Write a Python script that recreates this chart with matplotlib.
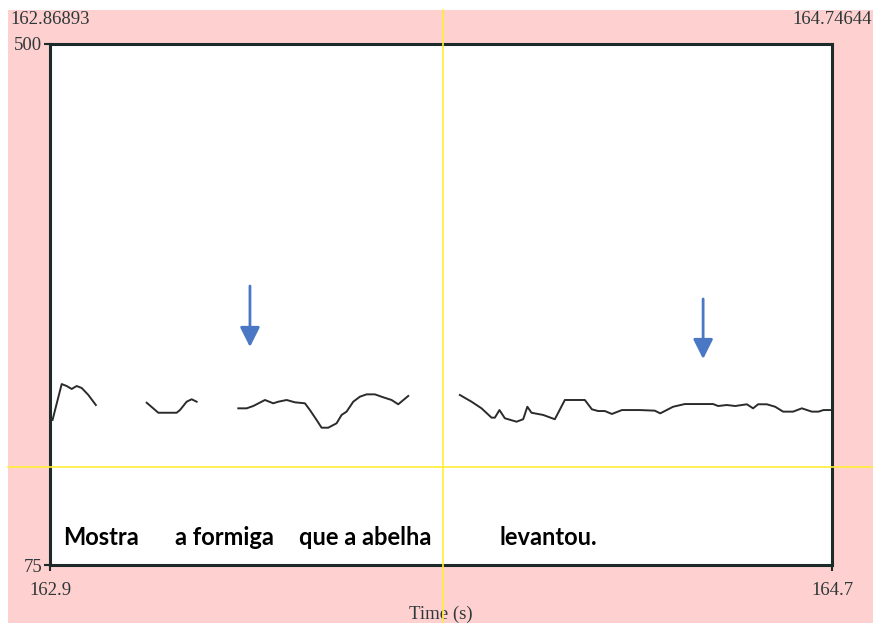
import matplotlib.pyplot as plt
from matplotlib.patches import Rectangle
from matplotlib.transforms import blended_transform_factory

# visible window (s) and pitch range (Hz)
t_start, t_end = 162.86893, 164.74644
f_min, f_max = 75, 500

# pitch contour, one list pair per voiced stretch
seg1_t = [162.875, 162.897, 162.909, 162.921, 162.933, 162.945, 162.961, 162.979]
seg1_f = [193.3, 222.6, 221.0, 218.6, 221.0, 219.4, 213.7, 205.5]

seg2_t = [163.101, 163.129, 163.173, 163.181, 163.197, 163.209, 163.221]
seg2_f = [207.4, 199.2, 199.2, 201.4, 208.2, 210.2, 208.2]

seg3_t = [163.321, 163.341, 163.357, 163.385, 163.405, 163.417, 163.437, 163.457,
          163.481, 163.493, 163.509, 163.521, 163.537, 163.557, 163.569, 163.581,
          163.597, 163.613, 163.629, 163.649, 163.669, 163.689, 163.705, 163.729]
seg3_f = [202.8, 202.8, 204.7, 209.6, 206.9, 208.2, 209.6, 207.7,
          206.9, 201.4, 193.3, 187.0, 187.0, 190.6, 197.4, 200.1,
          208.2, 212.3, 214.2, 214.2, 211.8, 209.6, 206.1, 212.9]

seg4_t = [163.853, 163.881, 163.905, 163.929, 163.937, 163.948, 163.961, 163.989,
          164.005, 164.015, 164.025, 164.053, 164.081, 164.105, 164.153, 164.170,
          164.185, 164.201, 164.218, 164.242, 164.285, 164.321, 164.334, 164.365,
          164.393, 164.461, 164.473, 164.494, 164.514, 164.542, 164.557, 164.569,
          164.590, 164.610, 164.629, 164.653, 164.674, 164.698, 164.714, 164.726,
          164.746]
seg4_f = [213.7, 208.2, 202.8, 195.2, 195.2, 201.4, 194.7, 191.9,
          193.9, 204.1, 199.2, 197.4, 193.9, 209.6, 209.6, 202.0,
          200.6, 200.6, 198.2, 201.4, 201.4, 200.9, 198.7, 204.1,
          206.3, 206.3, 204.7, 205.5, 204.7, 206.1, 202.8, 206.1,
          206.1, 204.1, 200.1, 200.1, 202.8, 200.1, 200.1, 201.4,
          201.4]

segments = [(seg1_t, seg1_f), (seg2_t, seg2_f), (seg3_t, seg3_f), (seg4_t, seg4_f)]

# cursor crosshair
cursor_t = 163.8125
cursor_f = 155.0

# words of the sentence and where they start
words = ["Mostra", "a formiga", "que a abelha", "levantou."]
word_t = [162.900, 163.169, 163.467, 163.949]
word_f = 97.5

# arrows marking the accented syllables: (time, tail Hz, tip Hz)
arrows = [(163.349, 302.6, 252.8), (164.437, 292.0, 243.0)]

W, H = 873, 623
fig = plt.figure(figsize=(W / 100, H / 100), dpi=100, facecolor="white")
fig.add_artist(Rectangle((8 / W, 0), (W - 8) / W, (H - 10) / H,
                         transform=fig.transFigure, facecolor="#ffd0d0",
                         edgecolor="none", zorder=0))

ax = fig.add_axes([50 / W, (H - 565) / H, 782 / W, 521 / H])
ax.set_facecolor("white")
ax.set_xlim(t_start, t_end)
ax.set_ylim(f_min, f_max)

for t, f in segments:
    ax.plot(t, f, color="#2b2b2b", lw=1.4, zorder=3)

# crosshair runs across the whole pink panel
vtrans = blended_transform_factory(ax.transData, fig.transFigure)
htrans = blended_transform_factory(fig.transFigure, ax.transData)
fig.add_artist(plt.Line2D([cursor_t, cursor_t], [0, (H - 10) / H], transform=vtrans,
                          color="#ffee33", lw=1.2, zorder=1))
fig.add_artist(plt.Line2D([8 / W, 1], [cursor_f, cursor_f], transform=htrans,
                          color="#ffee33", lw=1.2, zorder=1))

for t, f0, f1 in arrows:
    ax.annotate("", xy=(t, f1), xytext=(t, f0),
                arrowprops=dict(arrowstyle="-|>,head_length=0.8,head_width=0.4",
                                color="#4a78c4", lw=2, mutation_scale=15,
                                shrinkA=0, shrinkB=0), zorder=4)

for w, t in zip(words, word_t):
    ax.text(t, word_f, w, ha="left", va="center", fontsize=17,
            fontweight="bold", family="Lato", color="black", zorder=4)

for side in ax.spines.values():
    side.set_linewidth(2.2)
    side.set_color("#1c2a2a")

serif = "Liberation Serif"
txt = "#2d3838"
ax.set_yticks([f_min, f_max])
ax.set_yticklabels([str(f_min), str(f_max)], family=serif, fontsize=13.5, color=txt)
ax.set_xticks([t_start, t_end])
ax.set_xticklabels([f"{t_start:.1f}", f"{t_end:.1f}"], family=serif, fontsize=13.5, color=txt)
ax.tick_params(axis="y", length=4, width=1.5, pad=1.5, color="#1c2a2a")
ax.tick_params(axis="x", length=4, width=1.5, pad=8, color="#1c2a2a")
ax.set_xlabel("Time (s)", family=serif, fontsize=13.5, color=txt, labelpad=5)

fig.text(10 / W, 1 - 20 / H, f"{t_start:.5f}", family=serif, fontsize=13.5,
         color=txt, ha="left", va="center")
fig.text(872 / W, 1 - 20 / H, f"{t_end:.5f}", family=serif, fontsize=13.5,
         color=txt, ha="right", va="center")

fig.savefig("out.png", dpi=100, facecolor="white")
